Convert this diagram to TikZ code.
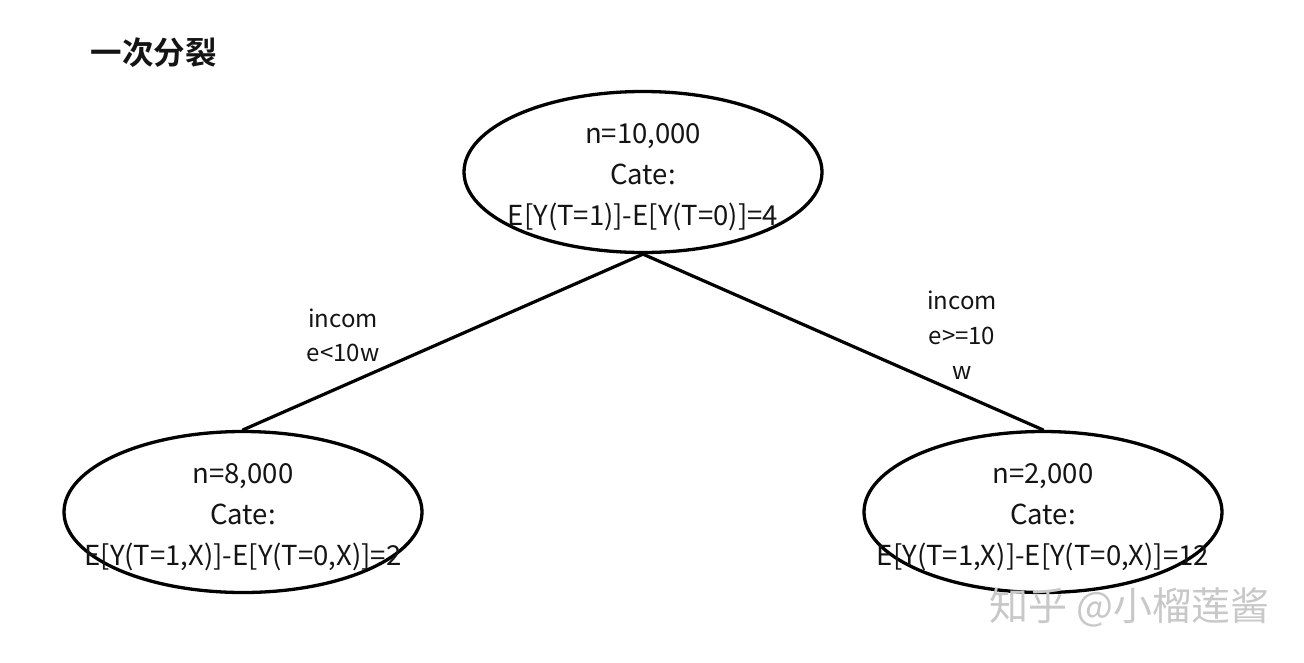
\documentclass[tikz,border=0pt]{standalone}
\usepackage{fontspec}
\setmainfont{Noto Sans CJK SC}[BoldFont={Noto Sans CJK SC Bold}]
\definecolor{ink}{RGB}{20,20,20}
\definecolor{mark}{RGB}{200,200,200}
\usepackage{tikz}
\usetikzlibrary{shapes.geometric,positioning}

\tikzset{
  split/.style={draw=black,ellipse,line width=3.3pt,minimum width=358pt,minimum height=161pt,inner sep=0pt},
  splittext/.style={align=center,text=ink,inner sep=0pt,font=\fontsize{27.5}{41}\selectfont},
  edgetext/.style={align=center,text=ink,inner sep=0pt,font=\fontsize{24}{34}\selectfont},
  edge/.style={line width=3.2pt,line cap=round}
}

\begin{document}
\begin{tikzpicture}[x=1pt,y=-1pt]
        \useasboundingbox[fill=white] (0,0) rectangle (1304,662);
        \node[font=\fontsize{31.5}{36}\selectfont\bfseries,text=ink,anchor=west] (title) at (87,53) {一次分裂};
        \node[split] (root) at (643,172) {};
        \node[split] (left) at (243,512) {};
        \node[split] (right) at (1043,512) {};
        \node[splittext] (roottext) at (643,177.5) {n=10,000\\Cate:\\E[Y(T=1)]-E[Y(T=0)]=4};
        \node[splittext] (lefttext) at (243,517) {n=8,000\\Cate:\\E[Y(T=1,X)]-E[Y(T=0,X)]=2};
        \node[splittext] (righttext) at (1043,517) {n=2,000\\Cate:\\E[Y(T=1,X)]-E[Y(T=0,X)]=12};
        \draw[edge] (root.south) -- (left.north);
        \draw[edge] (root.south) -- (right.north);
        \node[edgetext] (leftcut) at (343,335) {incom\\e<10w};
        \node[edgetext,font=\fontsize{24}{35}\selectfont] (rightcut) at (962,335) {incom\\e>=10\\w};
        \node[text=mark,font=\fontsize{39}{42}\selectfont,anchor=west] (mark) at (986,607) {知乎 @小榴莲酱};
      \end{tikzpicture}
\end{document}
